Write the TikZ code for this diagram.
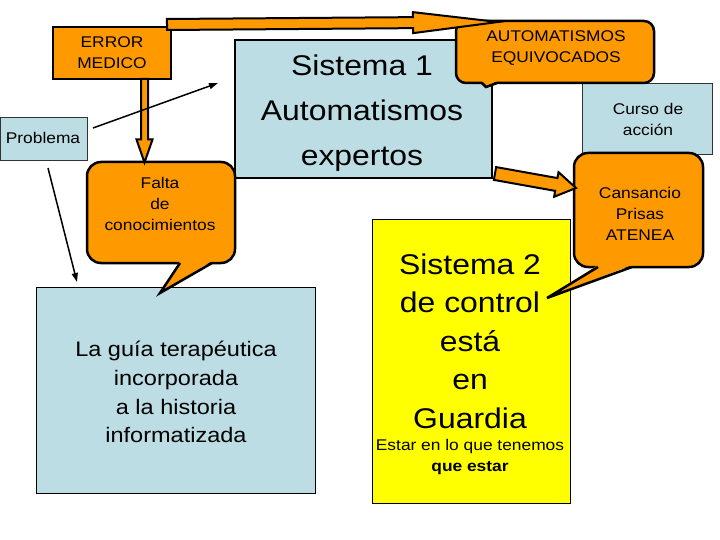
\documentclass[tikz,border=0pt]{standalone}
\usepackage{fontspec}
\setmainfont{Liberation Sans}[FakeStretch=1.12]
\usetikzlibrary{calc,arrows.meta}
\definecolor{orng}{RGB}{255,153,0}
\definecolor{lblue}{RGB}{189,221,228}
\definecolor{yel}{RGB}{255,255,0}
% #1 start, #2 tip, #3 half shaft, #4 half head, #5 head length, #6 prefix
\newcommand\fatarrow[6]{%
  \coordinate (#6h) at ($(#2)!#5!(#1)$);
  \filldraw[fatarrowstyle] ($(#1)!#3!90:(#2)$) -- ($(#6h)!#3!90:(#2)$) -- ($(#6h)!#4!90:(#2)$) -- (#2)
     -- ($(#6h)!#4!-90:(#2)$) -- ($(#6h)!#3!-90:(#2)$) -- ($(#1)!#3!-90:(#2)$) -- cycle;}
\begin{document}
\begin{tikzpicture}[x=1pt,y=-1pt,
  boxbase/.style={inner sep=0pt, outer sep=0pt},
  orangebox/.style={boxbase, draw=black, fill=orng, line width=2.5pt},
  callout/.style={boxbase, draw=black, fill=orng, line width=2.5pt, rounded corners=14pt},
  thinblue/.style={boxbase, draw=black!80, fill=lblue, line width=0.8pt},
  thickblue/.style={boxbase, draw=black, fill=lblue, line width=2.5pt},
  yelbox/.style={boxbase, draw=black, fill=yel, line width=0.8pt},
  smalltxt/.style={align=center, inner sep=0pt, font=\fontsize{15.5}{21}\selectfont},
  bigtxt/.style={align=center, inner sep=0pt, font=\fontsize{28.5}{45}\selectfont},
  fatarrowstyle/.style={fill=orng, draw=black, line width=2pt, line join=miter},
  thinarrow/.style={line width=1.5pt, -{Triangle[length=9pt,width=6pt]}},
  tailfill/.style={fill=orng},
  tailline/.style={draw=black, line width=2.5pt, line join=miter}]
\useasboundingbox (0,0) rectangle (720,540);

% plain boxes
\node[orangebox, minimum width=118pt, minimum height=52pt] (err) at (112,53) {};
\node[smalltxt] (errt) at (112,53) {ERROR\\MEDICO};

\node[thinblue, minimum width=87pt, minimum height=43pt] (prob) at (43.5,138.5) {};
\node[smalltxt] (probt) at (43,138) {Problema};

\node[thickblue, minimum width=257pt, minimum height=138pt] (s1box) at (363.5,109) {};
\node[bigtxt] (s1t) at (362,113) {Sistema 1\\Automatismos\\expertos};

\node[thinblue, minimum width=130pt, minimum height=71pt] (curso) at (647,118.5) {};
\node[smalltxt] (cursot) at (648,119) {Curso de\\acción};

\node[thinblue, draw=black, minimum width=279pt, minimum height=206pt] (guia) at (175.5,390) {};
\node[align=center, inner sep=0pt, font=\fontsize{21}{28.8}\selectfont] (guiat) at (176,392)
  {La guía terapéutica\\incorporada\\a la historia\\informatizada};

\node[yelbox, minimum width=198pt, minimum height=284pt] (s2box) at (471,361) {};
\node[align=center, inner sep=0pt, font=\fontsize{28.5}{38.5}\selectfont] (s2t) at (470,341)
  {Sistema 2\\de control\\está\\en\\Guardia};
\node[smalltxt] (s2s) at (470,457) {Estar en lo que tenemos\\\textbf{que estar}};

% callouts
\node[callout, rounded corners=10pt, minimum width=198pt, minimum height=62pt] (autom) at (555,52) {};
\fill[tailfill] ($(autom.south)+(-73,-2)$) -- ($(autom.south)+(-69,4)$) -- ($(autom.south)+(-58,-2)$) -- cycle;
\draw[tailline] ($(autom.south)+(-73,0)$) -- ($(autom.south)+(-69,4)$) -- ($(autom.south)+(-58,0)$);
\node[smalltxt] (automt) at (556,48) {AUTOMATISMOS\\EQUIVOCADOS};

\node[callout, minimum width=148pt, minimum height=101pt] (falta) at (161,212.5) {};
\fill[tailfill] ($(falta.south)+(19,-2)$) -- ($(falta.south)+(-1,30)$) -- ($(falta.south)+(51,-2)$) -- cycle;
\draw[tailline] ($(falta.south)+(19,0)$) -- ($(falta.south)+(-1,30)$) -- ($(falta.south)+(51,0)$);
\node[smalltxt] (faltat) at (160,204) {Falta\\de\\conocimientos};

\node[callout, minimum width=129pt, minimum height=114pt] (cans) at (638.5,210) {};
\fill[tailfill] ($(cans.south)+(-40.5,-2)$) -- ($(cans.south)+(-91.5,31)$) -- ($(cans.south)+(-6.5,-2)$) -- cycle;
\draw[tailline] ($(cans.south)+(-40.5,0)$) -- ($(cans.south)+(-91.5,31)$) -- ($(cans.south)+(-6.5,0)$);
\node[smalltxt] (canst) at (640,214) {Cansancio\\Prisas\\ATENEA};

% fat arrows
\coordinate (ta1) at ($(err.north east)+(-4,-2.5)$);
\coordinate (ta2) at ($(autom.north west)+(42,1)$);
\fatarrow{ta1}{ta2}{5.5pt}{10.5pt}{85pt}{ta}
\coordinate (da1) at ($(err.south)+(32.5,0)$);
\coordinate (da2) at ($(falta.north)+(-16.5,0.5)$);
\fatarrow{da1}{da2}{3.5pt}{8pt}{23pt}{da}
\coordinate (ra1) at ($(s1box.south east)+(3,-4.5)$);
\coordinate (ra2) at ($(cans.west)+(2,-22)$);
\fatarrow{ra1}{ra2}{6.5pt}{12.5pt}{20pt}{ra}

% thin arrows
\coordinate (pa1) at ($(prob.east)+(6,-10.5)$);
\coordinate (pa2) at ($(s1box.west)+(-17,-26)$);
\draw[thinarrow] (pa1) -- (pa2);
\coordinate (pb1) at ($(prob.south)+(4.5,8)$);
\coordinate (pb2) at ($(guia.north west)+(41,-5)$);
\draw[thinarrow] (pb1) -- (pb2);
\end{tikzpicture}
\end{document}
